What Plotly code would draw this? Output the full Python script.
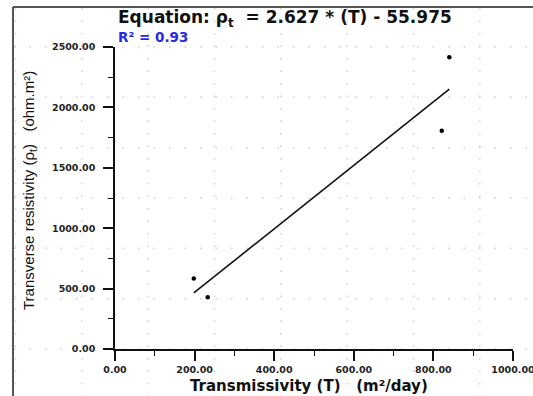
import plotly.graph_objects as go

# ---- data ----
transmissivity = [198, 233, 821, 840]          # T (m²/day)
resistivity = [584, 428, 1807, 2415]           # rho_t (ohm.m²)
slope = 2.627
intercept = -55.975
r_squared = 0.93
x_ticks = [0, 200, 400, 600, 800, 1000]
y_ticks = [0, 500, 1000, 1500, 2000, 2500]

fit_x = [min(transmissivity), max(transmissivity)]
fit_y = [slope * v + intercept for v in fit_x]

W, H = 533, 396
L, R, T, B = 115, 20, 47, 47
PW, PH = W - L - R, H - T - B


def px(xp):
    return (xp - L) / PW


def py(yp):
    return (H - B - yp) / PH


fig = go.Figure()
fig.add_trace(go.Scatter(x=fit_x, y=fit_y, mode="lines",
                         line=dict(color="#111", width=1.6), showlegend=False,
                         hoverinfo="skip"))
fig.add_trace(go.Scatter(x=transmissivity, y=resistivity, mode="markers",
                         marker=dict(color="#000", size=4.5), showlegend=False))

shapes = []
# background dotted graph-paper pattern (decoration)
row_step = PH / 6.0
col_step = PW / 6.0
for k in range(-1, 8):
    yv = H - B - k * row_step
    if 0 <= yv <= H:
        shapes.append(dict(type="line", xref="paper", yref="paper",
                           x0=px(14), x1=px(W), y0=py(yv), y1=py(yv),
                           line=dict(color="#cfcfcf", width=1.5, dash="1.5px,14px"),
                           layer="below"))
for k in range(-3, 7):
    xv = L + col_step / 2 + k * col_step
    if 14 <= xv <= W:
        shapes.append(dict(type="line", xref="paper", yref="paper",
                           x0=px(xv), x1=px(xv), y0=py(8), y1=py(H),
                           line=dict(color="#cfcfcf", width=1.5, dash="1.5px,11px"),
                           layer="below"))
# outer frame (left and top edges)
shapes.append(dict(type="line", xref="paper", yref="paper",
                   x0=px(13), x1=px(13), y0=py(7), y1=py(H + 5),
                   line=dict(color="#555", width=2)))
shapes.append(dict(type="line", xref="paper", yref="paper",
                   x0=px(13), x1=px(W + 5), y0=py(7), y1=py(7),
                   line=dict(color="#555", width=2)))

annotations = [
    dict(text="Equation: ρ<sub>t</sub>  = 2.627 * (T) - 55.975",
         xref="paper", yref="paper", x=px(116), y=py(19), xanchor="left",
         yanchor="middle", showarrow=False,
         font=dict(family="DejaVu Sans", size=17, color="#111", weight="bold")),
    dict(text=f"R² = {r_squared:.2f}",
         xref="paper", yref="paper", x=px(116), y=py(37), xanchor="left",
         yanchor="middle", showarrow=False,
         font=dict(family="DejaVu Sans", size=13.5, color="#2a2ae6", weight="bold")),
    dict(text="Transmissivity (T)   (m²/day)",
         xref="paper", yref="paper", x=px(309), y=py(386), xanchor="center",
         yanchor="middle", showarrow=False,
         font=dict(family="DejaVu Sans", size=15, color="#111", weight="bold")),
    dict(text="Transverse resistivity (ρ<sub>t</sub>)   (ohm.m²)",
         xref="paper", yref="paper", x=px(29), y=py(191), xanchor="center",
         yanchor="middle", textangle=-90, showarrow=False,
         font=dict(family="Liberation Sans", size=15, color="#111")),
]

tickfont = dict(family="DejaVu Sans", size=9.5, color="#222", weight="bold")
fig.update_layout(
    width=W, height=H,
    margin=dict(l=L, r=R, t=T, b=B),
    paper_bgcolor="white", plot_bgcolor="rgba(0,0,0,0)",
    shapes=shapes, annotations=annotations,
    xaxis=dict(range=[0, 1000], tickvals=x_ticks,
               ticktext=[f"{v:.2f}" for v in x_ticks],
               showgrid=False, zeroline=False, showline=True, automargin=False,
               linecolor="#111", linewidth=1.6, ticks="outside", ticklen=10,
               tickwidth=1.6, tickcolor="#111", tickfont=tickfont,
               ticklabelstandoff=1, ticklabeloverflow="allow",
               minor=dict(dtick=100, tick0=0, ticks="outside", ticklen=5,
                          tickwidth=1.4, tickcolor="#111", showgrid=False)),
    yaxis=dict(range=[0, 2500], tickvals=y_ticks,
               ticktext=[f"{v:.2f}" for v in y_ticks],
               showgrid=False, zeroline=False, showline=True, automargin=False,
               linecolor="#111", linewidth=1.6, ticks="outside", ticklen=10,
               tickwidth=1.6, tickcolor="#111", tickfont=tickfont,
               ticklabelstandoff=6, ticklabeloverflow="allow",
               minor=dict(dtick=250, tick0=0, ticks="outside", ticklen=5,
                          tickwidth=1.4, tickcolor="#111", showgrid=False)),
)

fig.write_html("out.html")
